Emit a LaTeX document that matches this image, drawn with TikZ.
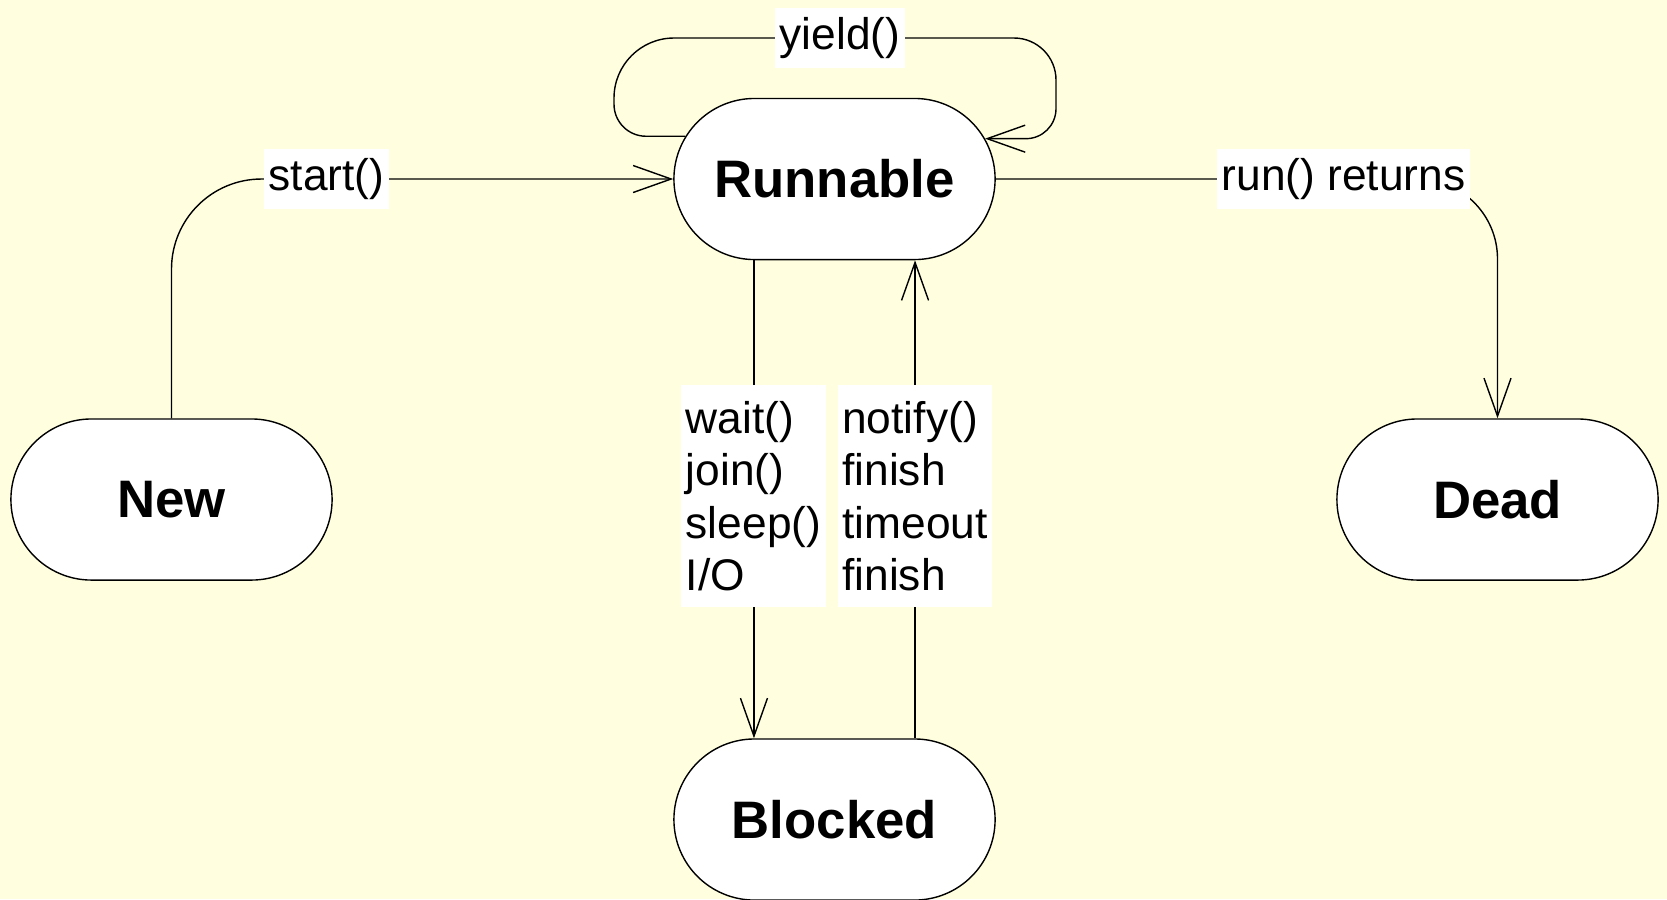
\documentclass[tikz,border=0pt]{standalone}
\usepackage{fontspec}
\setmainfont{Liberation Sans}
\usetikzlibrary{shapes.misc,arrows.meta}
\definecolor{bgyellow}{HTML}{FFFFE0}
\tikzset{
  state/.style={rounded rectangle, draw=black, fill=white, line width=0.4pt,
    minimum width=3.21cm, minimum height=1.61cm, inner sep=0pt,
    font=\fontsize{15pt}{18pt}\selectfont\bfseries},
  lbl/.style={fill=white, inner xsep=0.045cm, inner ysep=0.09cm,
    font=\fontsize{12.6pt}{14.94pt}\selectfont},
  mlbl/.style={lbl, align=left, inner ysep=0.16cm},
  arr/.style={draw=black, line width=0.4pt,
    -{Straight Barb[length=0.38cm,width=0.27cm]}},
  conn/.style={draw=black, line width=0.4pt}
}
\begin{document}
\begin{tikzpicture}[x=0.01cm,y=-0.01cm]
\fill[bgyellow] (0,0) rectangle (1667,899);
\useasboundingbox (0,0) rectangle (1667,899);

\node[state] (R) at (834.5,179) {Runnable};
\node[state] (N) at (171.5,499.5) {New};
\node[state] (D) at (1497.5,499.5) {Dead};
\node[state] (B) at (834.5,819.5) {Blocked};

% connectors
\draw[arr, rounded corners=0.9cm] (N.north) |- (R.west);
\draw[arr, rounded corners=0.8cm] (R.east) -| (D.north);
\draw[arr] ([xshift=-0.805cm]R.south) -- ([xshift=-0.805cm]B.north);
\draw[arr] ([xshift=0.805cm]B.north) -- ([xshift=0.805cm]R.south);
\coordinate (ys) at (R.164.6);
\coordinate (ye) at (R.15.4);
\coordinate (yl) at (614,38);
\coordinate (yr) at (1056,38);
\draw[arr] (ys) [rounded corners=0.32cm] -- (ys -| yl)
  [rounded corners=0.6cm] -- (yl)
  [rounded corners=0.42cm] -- (yr)
  [rounded corners=0.3cm] -- (yr |- ye) -- (ye);

% labels
\node[lbl] (lstart) at (326.5,179) {start()};
\node[lbl] (lrun) at (1343.5,179) {run() returns};
\node[lbl] (lyield) at (840,38) {yield()};
\node[mlbl] (lwait) at (753.5,496) {wait()\\join()\\sleep()\\I/O};
\node[mlbl] (lnotify) at (915,496) {notify()\\finish\\timeout\\finish};
\end{tikzpicture}
\end{document}
